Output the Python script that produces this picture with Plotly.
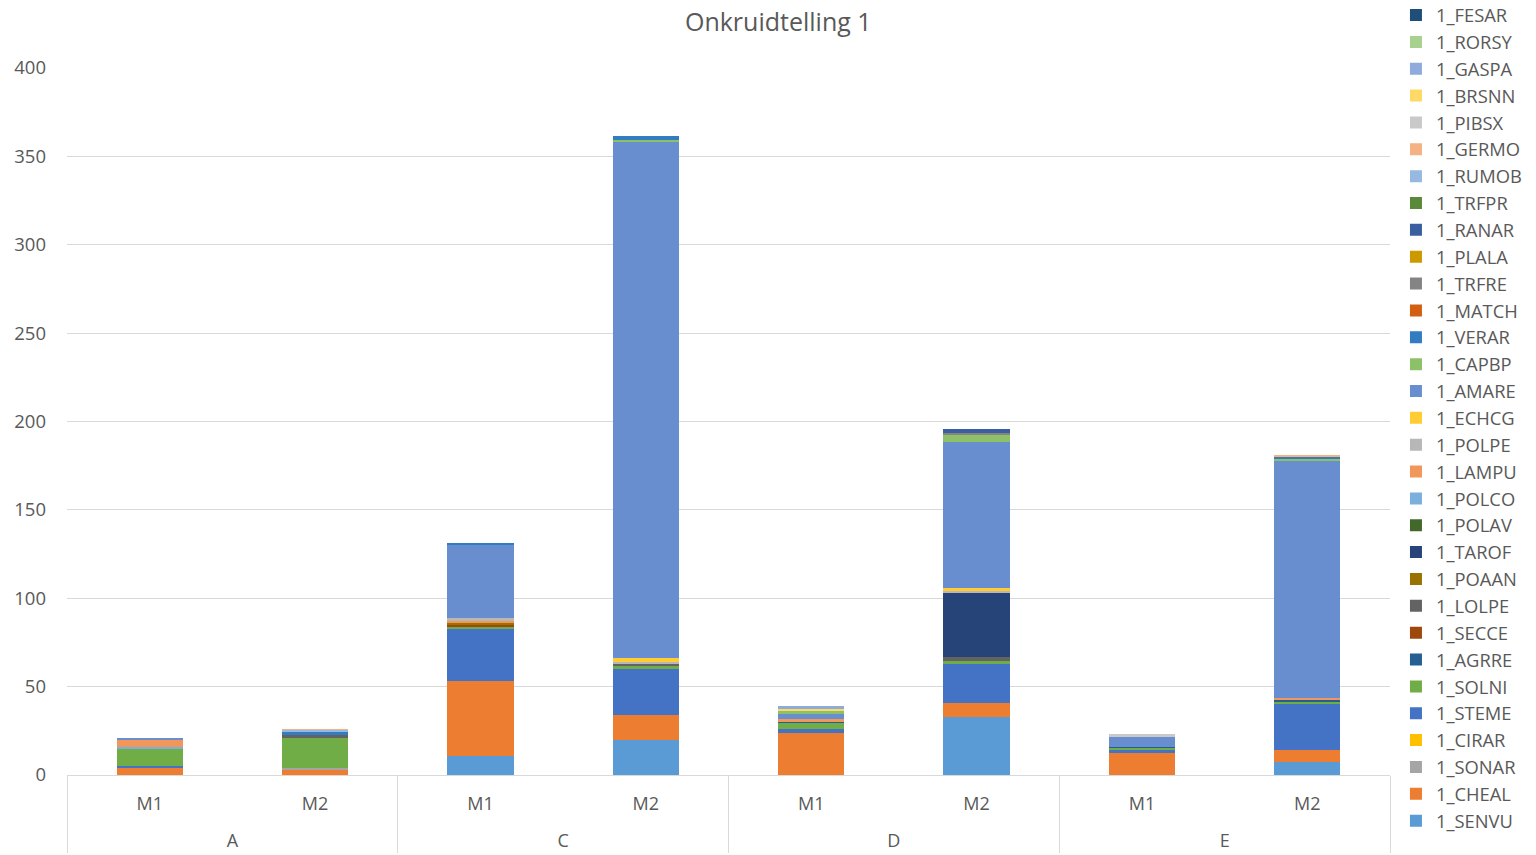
import plotly.graph_objects as go

# Stacking order, bottom to top
species = ["1_SENVU", "1_CHEAL", "1_SONAR", "1_CIRAR", "1_STEME", "1_SOLNI", "1_AGRRE",
           "1_SECCE", "1_LOLPE", "1_POAAN", "1_TAROF", "1_POLAV", "1_POLCO", "1_LAMPU",
           "1_POLPE", "1_ECHCG", "1_AMARE", "1_CAPBP", "1_VERAR", "1_MATCH", "1_TRFRE",
           "1_PLALA", "1_RANAR", "1_TRFPR", "1_RUMOB", "1_GERMO", "1_PIBSX", "1_BRSNN",
           "1_GASPA", "1_RORSY", "1_FESAR"]

colors = ["#5B9BD5", "#ED7D31", "#A5A5A5", "#FFC000", "#4472C4", "#70AD47", "#255E91",
          "#9E480E", "#636363", "#997300", "#264478", "#43682B", "#7CAFDD", "#F1975A",
          "#B7B7B7", "#FFCD33", "#698ED0", "#8CC168", "#327DC2", "#D26012", "#848484",
          "#CC9A00", "#3A5FA0", "#5A8A39", "#97B9E0", "#F4B183", "#C9C9C9", "#FFD966",
          "#8FAADC", "#A9D18E", "#1F4E79"]

fields = ["A", "A", "C", "C", "D", "D", "E", "E"]
moments = ["M1", "M2", "M1", "M2", "M1", "M2", "M1", "M2"]

# Weed counts per plot (species not listed are zero)
A_M1 = {"1_CHEAL": 4, "1_STEME": 1, "1_SOLNI": 10, "1_LAMPU": 4, "1_POLCO": 1, "1_AMARE": 1}
A_M2 = {"1_CHEAL": 3, "1_SONAR": 1, "1_SOLNI": 17, "1_LOLPE": 1.5, "1_VERAR": 2,
        "1_RUMOB": 1, "1_GERMO": 0.5}
C_M1 = {"1_SENVU": 11, "1_CHEAL": 42, "1_STEME": 30, "1_SOLNI": 1, "1_SECCE": 1,
        "1_POAAN": 1, "1_LAMPU": 1, "1_POLPE": 2, "1_AMARE": 41, "1_VERAR": 1.5}
C_M2 = {"1_SENVU": 20, "1_CHEAL": 14, "1_STEME": 26, "1_SOLNI": 2, "1_LOLPE": 1,
        "1_POLPE": 1, "1_ECHCG": 2, "1_AMARE": 292, "1_CAPBP": 1.5, "1_VERAR": 2}
D_M1 = {"1_CHEAL": 24, "1_STEME": 2, "1_SOLNI": 3.5, "1_AGRRE": 1, "1_LAMPU": 1,
        "1_AMARE": 3, "1_CAPBP": 2, "1_GASPA": 1.5, "1_BRSNN": 1}
D_M2 = {"1_SENVU": 33, "1_CHEAL": 7.5, "1_STEME": 22.5, "1_SOLNI": 1.5, "1_LOLPE": 2.5,
        "1_TAROF": 36, "1_POLPE": 1, "1_ECHCG": 2, "1_AMARE": 82.5, "1_CAPBP": 4,
        "1_TRFRE": 1, "1_RANAR": 2}
E_M1 = {"1_CHEAL": 12.5, "1_STEME": 1.5, "1_SOLNI": 1.5, "1_AGRRE": 0.5, "1_AMARE": 5.5,
        "1_PIBSX": 1.5}
E_M2 = {"1_SENVU": 7.5, "1_CHEAL": 6.5, "1_STEME": 26.5, "1_SOLNI": 1, "1_AGRRE": 1,
        "1_LAMPU": 1, "1_AMARE": 134, "1_CAPBP": 1.5, "1_VERAR": 1, "1_GERMO": 0.5}

plots = [A_M1, A_M2, C_M1, C_M2, D_M1, D_M2, E_M1, E_M2]

text_color = "#595959"
font_family = "Open Sans"

fig = go.Figure()
for name, color in zip(species, colors):
    fig.add_trace(go.Bar(
        # field label on its own second line pushes it further below the M1/M2 row
        x=[["<br>" + f for f in fields], moments],
        y=[p.get(name, 0) for p in plots],
        name=name,
        marker=dict(color=color, line=dict(width=0)),
    ))

fig.update_layout(
    barmode="stack",
    bargap=0.6,
    width=1536,
    height=855,
    paper_bgcolor="white",
    plot_bgcolor="white",
    margin=dict(l=67, r=146, t=68, b=80, autoexpand=False),
    title=dict(text="Onkruidtelling 1", x=0.5067, xanchor="center", y=0.974, yanchor="middle",
               font=dict(family=font_family, size=25, color=text_color)),
    font=dict(family=font_family, color=text_color, size=17),
    legend=dict(
        traceorder="reversed",
        x=1.0045, xanchor="left", y=1.101, yanchor="top",
        font=dict(family=font_family, size=18.35, color=text_color),
        itemwidth=30,
        maxheight=1.0,
        bgcolor="rgba(0,0,0,0)",
    ),
    yaxis=dict(
        range=[0, 400],
        tickvals=[0, 50, 100, 150, 200, 250, 300, 350, 400],
        showgrid=True, gridcolor="#D9D9D9", gridwidth=1,
        zeroline=False, showline=False,
        tickfont=dict(size=18.5, color=text_color),
        ticks="", ticklabelstandoff=20,
    ),
    xaxis=dict(
        type="multicategory",
        showline=True, linecolor="#D9D9D9", linewidth=1,
        showdividers=True, dividercolor="#D9D9D9", dividerwidth=1,
        tickfont=dict(size=18, color=text_color),
        ticks="", ticklabelstandoff=12,
    ),
)

fig.write_html("out.html")
